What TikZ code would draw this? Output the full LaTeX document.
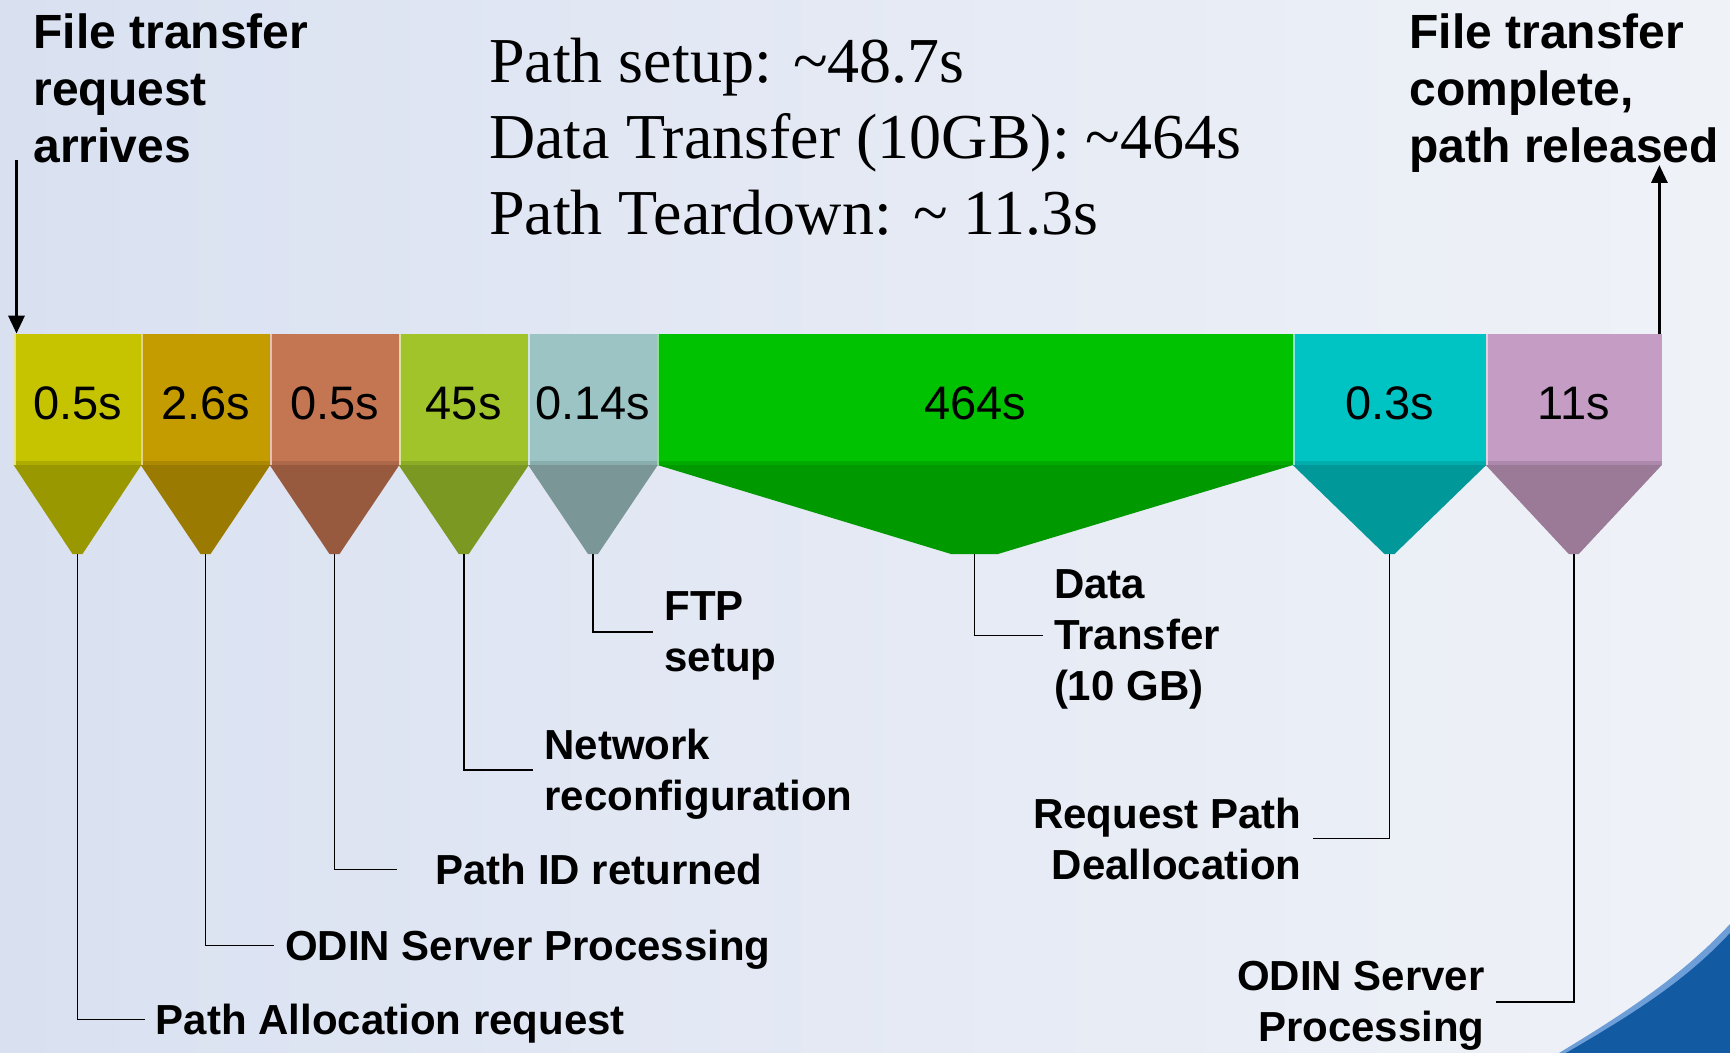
\documentclass[tikz,border=0pt]{standalone}
\usepackage{fontspec}
\setmainfont{Liberation Sans}
\newfontfamily\serifface{Liberation Serif}
\usetikzlibrary{arrows.meta}

% background and segment colours
\definecolor{bgL}{RGB}{205,215,236}
\definecolor{bgM}{RGB}{224,230,243}
\definecolor{bgN}{RGB}{239,242,247}
\definecolor{bgR}{RGB}{231,235,243}
\definecolor{cA}{RGB}{198,196,0}   \definecolor{cAd}{RGB}{154,152,0}
\definecolor{cB}{RGB}{196,156,0}   \definecolor{cBd}{RGB}{154,122,0}
\definecolor{cC}{RGB}{196,118,82}  \definecolor{cCd}{RGB}{152,90,62}
\definecolor{cD}{RGB}{160,196,42}  \definecolor{cDd}{RGB}{122,152,34}
\definecolor{cE}{RGB}{156,196,196} \definecolor{cEd}{RGB}{122,150,150}
\definecolor{cF}{RGB}{0,194,0}     \definecolor{cFd}{RGB}{0,154,0}
\definecolor{cG}{RGB}{0,196,196}   \definecolor{cGd}{RGB}{0,152,152}
\definecolor{cH}{RGB}{196,156,196} \definecolor{cHd}{RGB}{154,122,150}
\definecolor{swDark}{RGB}{18,90,162}
\definecolor{swLight}{RGB}{110,158,216}

\pgfdeclarehorizontalshading{bgshade}{100bp}{color(0bp)=(bgL); color(40bp)=(bgM); color(75bp)=(bgN); color(100bp)=(bgR)}

\tikzset{
  seg/.style={inner sep=0pt, minimum height=65.25pt, text height=20pt, text depth=0pt,
              font=\fontsize{23.5}{28}\selectfont},
  sepline/.style={line width=1pt},
  conn/.style={black, line width=0.8pt},
  lab/.style={inner xsep=5.5pt, inner ysep=0pt, text depth=0pt, align=left,
              font=\fontsize{21}{25.5}\selectfont\bfseries},
  labr/.style={lab, align=right},
  corner/.style={inner sep=0pt, align=left, font=\fontsize{24}{28.7}\selectfont\bfseries},
  arr/.style={-{Triangle[width=8pt,length=9pt]}, line width=1.6pt}
}

\begin{document}
\begin{tikzpicture}[x=0.5pt,y=-0.5pt]
\useasboundingbox (0,0) rectangle (1730,1053);
\shade[shading=bgshade] (0,0) rectangle (1730,1053);

% blue swoosh in the lower right corner
\fill[swLight] (1559,1053) .. controls (1620,1016) and (1680,978) .. (1730,924) -- (1730,1053) -- cycle;
\fill[swDark] (1566,1053) .. controls (1626,1018) and (1684,983) .. (1730,933) -- (1730,1053) -- cycle;

% timeline segments
\node[seg, fill=cA, minimum width=63.5pt]  (s1) at (77.5,399.25)  {0.5s};
\node[seg, fill=cB, minimum width=64.5pt]  (s2) at (205.5,399.25) {2.6s};
\node[seg, fill=cC, minimum width=64.5pt]  (s3) at (334.5,399.25) {0.5s};
\node[seg, fill=cD, minimum width=64.75pt] (s4) at (463.75,399.25) {45s};
\node[seg, fill=cE, minimum width=64.5pt]  (s5) at (593,399.25)   {0.14s};
\node[seg, fill=cF, minimum width=317.75pt] (s6) at (975.25,399.25) {464s};
\node[seg, fill=cG, minimum width=96.5pt]  (s7) at (1389.5,399.25) {0.3s};
\node[seg, fill=cH, minimum width=87.75pt] (s8) at (1573.75,399.25) {11s};

% pointers under the segments, with a darker band along the segment foot
\foreach \s/\c/\d/\tx in {s1/cA/cAd/77.5, s2/cB/cBd/205.5, s3/cC/cCd/334.5,
                         s4/cD/cDd/463.75, s5/cE/cEd/593, s7/cG/cGd/1389.5, s8/cH/cHd/1573.75}{
  \fill[\d] (\s.south west) -- (\s.south east) -- (\tx+5,554) -- (\tx-5,554) -- cycle;
  \fill[\c!88!black] ([yshift=2pt]\s.south west) rectangle (\s.south east);
  \draw[sepline, \c!45!white] ([xshift=0.5pt]\s.north west) -- ([xshift=0.5pt]\s.south west);
}
\fill[cFd] (s6.south west) -- (s6.south east) -- (998,554) -- (951,554) -- cycle;
\fill[cF!88!black] ([yshift=2pt]s6.south west) rectangle (s6.south east);
\draw[sepline, cF!45!white] ([xshift=0.5pt]s6.north west) -- ([xshift=0.5pt]s6.south west);

% pointer tips
\coordinate (t1) at (77.5,554);
\coordinate (t2) at (205.5,554);
\coordinate (t3) at (334.5,554);
\coordinate (t4) at (463.75,554);
\coordinate (t5) at (593,554);
\coordinate (t6) at (974.5,554);
\coordinate (t7) at (1389.5,554);
\coordinate (t8) at (1573.75,554);

% step labels
\node[lab, anchor=west] (l1) at (144.5,1019.5) {Path Allocation request};
\node[lab, anchor=west] (l2) at (273.6,945.5) {ODIN Server Processing};
\node[lab, anchor=west, inner xsep=19pt] (l3) at (397.2,869.4) {Path ID returned};
\node[lab, anchor=west] (l4) at (533,770) {Network\\reconfiguration};
\node[lab, anchor=west] (l5) at (653,632) {FTP\\setup};
\node[lab, anchor=west] (l6) at (1042.6,635.5) {Data\\Transfer\\(10 GB)};
\node[labr, anchor=east] (l7) at (1313,838.5) {Request Path\\Deallocation};
\node[labr, anchor=east] (l8) at (1496,1001.8) {ODIN Server\\Processing};

\draw[conn] (t1) |- (l1.west);
\draw[conn] (t2) |- (l2.west);
\draw[conn] (t3) |- (l3.west);
\draw[conn] (t4) |- (l4.west);
\draw[conn] (t5) |- (l5.west);
\draw[conn] (t6) |- (l6.west);
\draw[conn] (t7) |- (l7.east);
\draw[conn] (t8) |- (l8.east);

% start and end events
\node[corner, anchor=north west] (req) at (33,13) {File transfer\\request\\arrives};
\node[corner, anchor=north west] (done) at (1409,13) {File transfer\\complete,\\path released};
\coordinate (inTop) at (16.5,160);
\coordinate (outTop) at (1659.4,165);
\draw[arr] (inTop) -- (inTop |- s1.north);
\draw[arr] (outTop |- s8.north) -- (outTop);

% summary of phase durations
\node[inner sep=0pt, anchor=north west, align=left, font=\serifface\fontsize{32}{38}\selectfont] (sum) at (488.8,38)
  {Path setup: \textasciitilde48.7s\\Data Transfer (10GB): \textasciitilde464s\\Path Teardown: \textasciitilde{} 11.3s};
\end{tikzpicture}
\end{document}
